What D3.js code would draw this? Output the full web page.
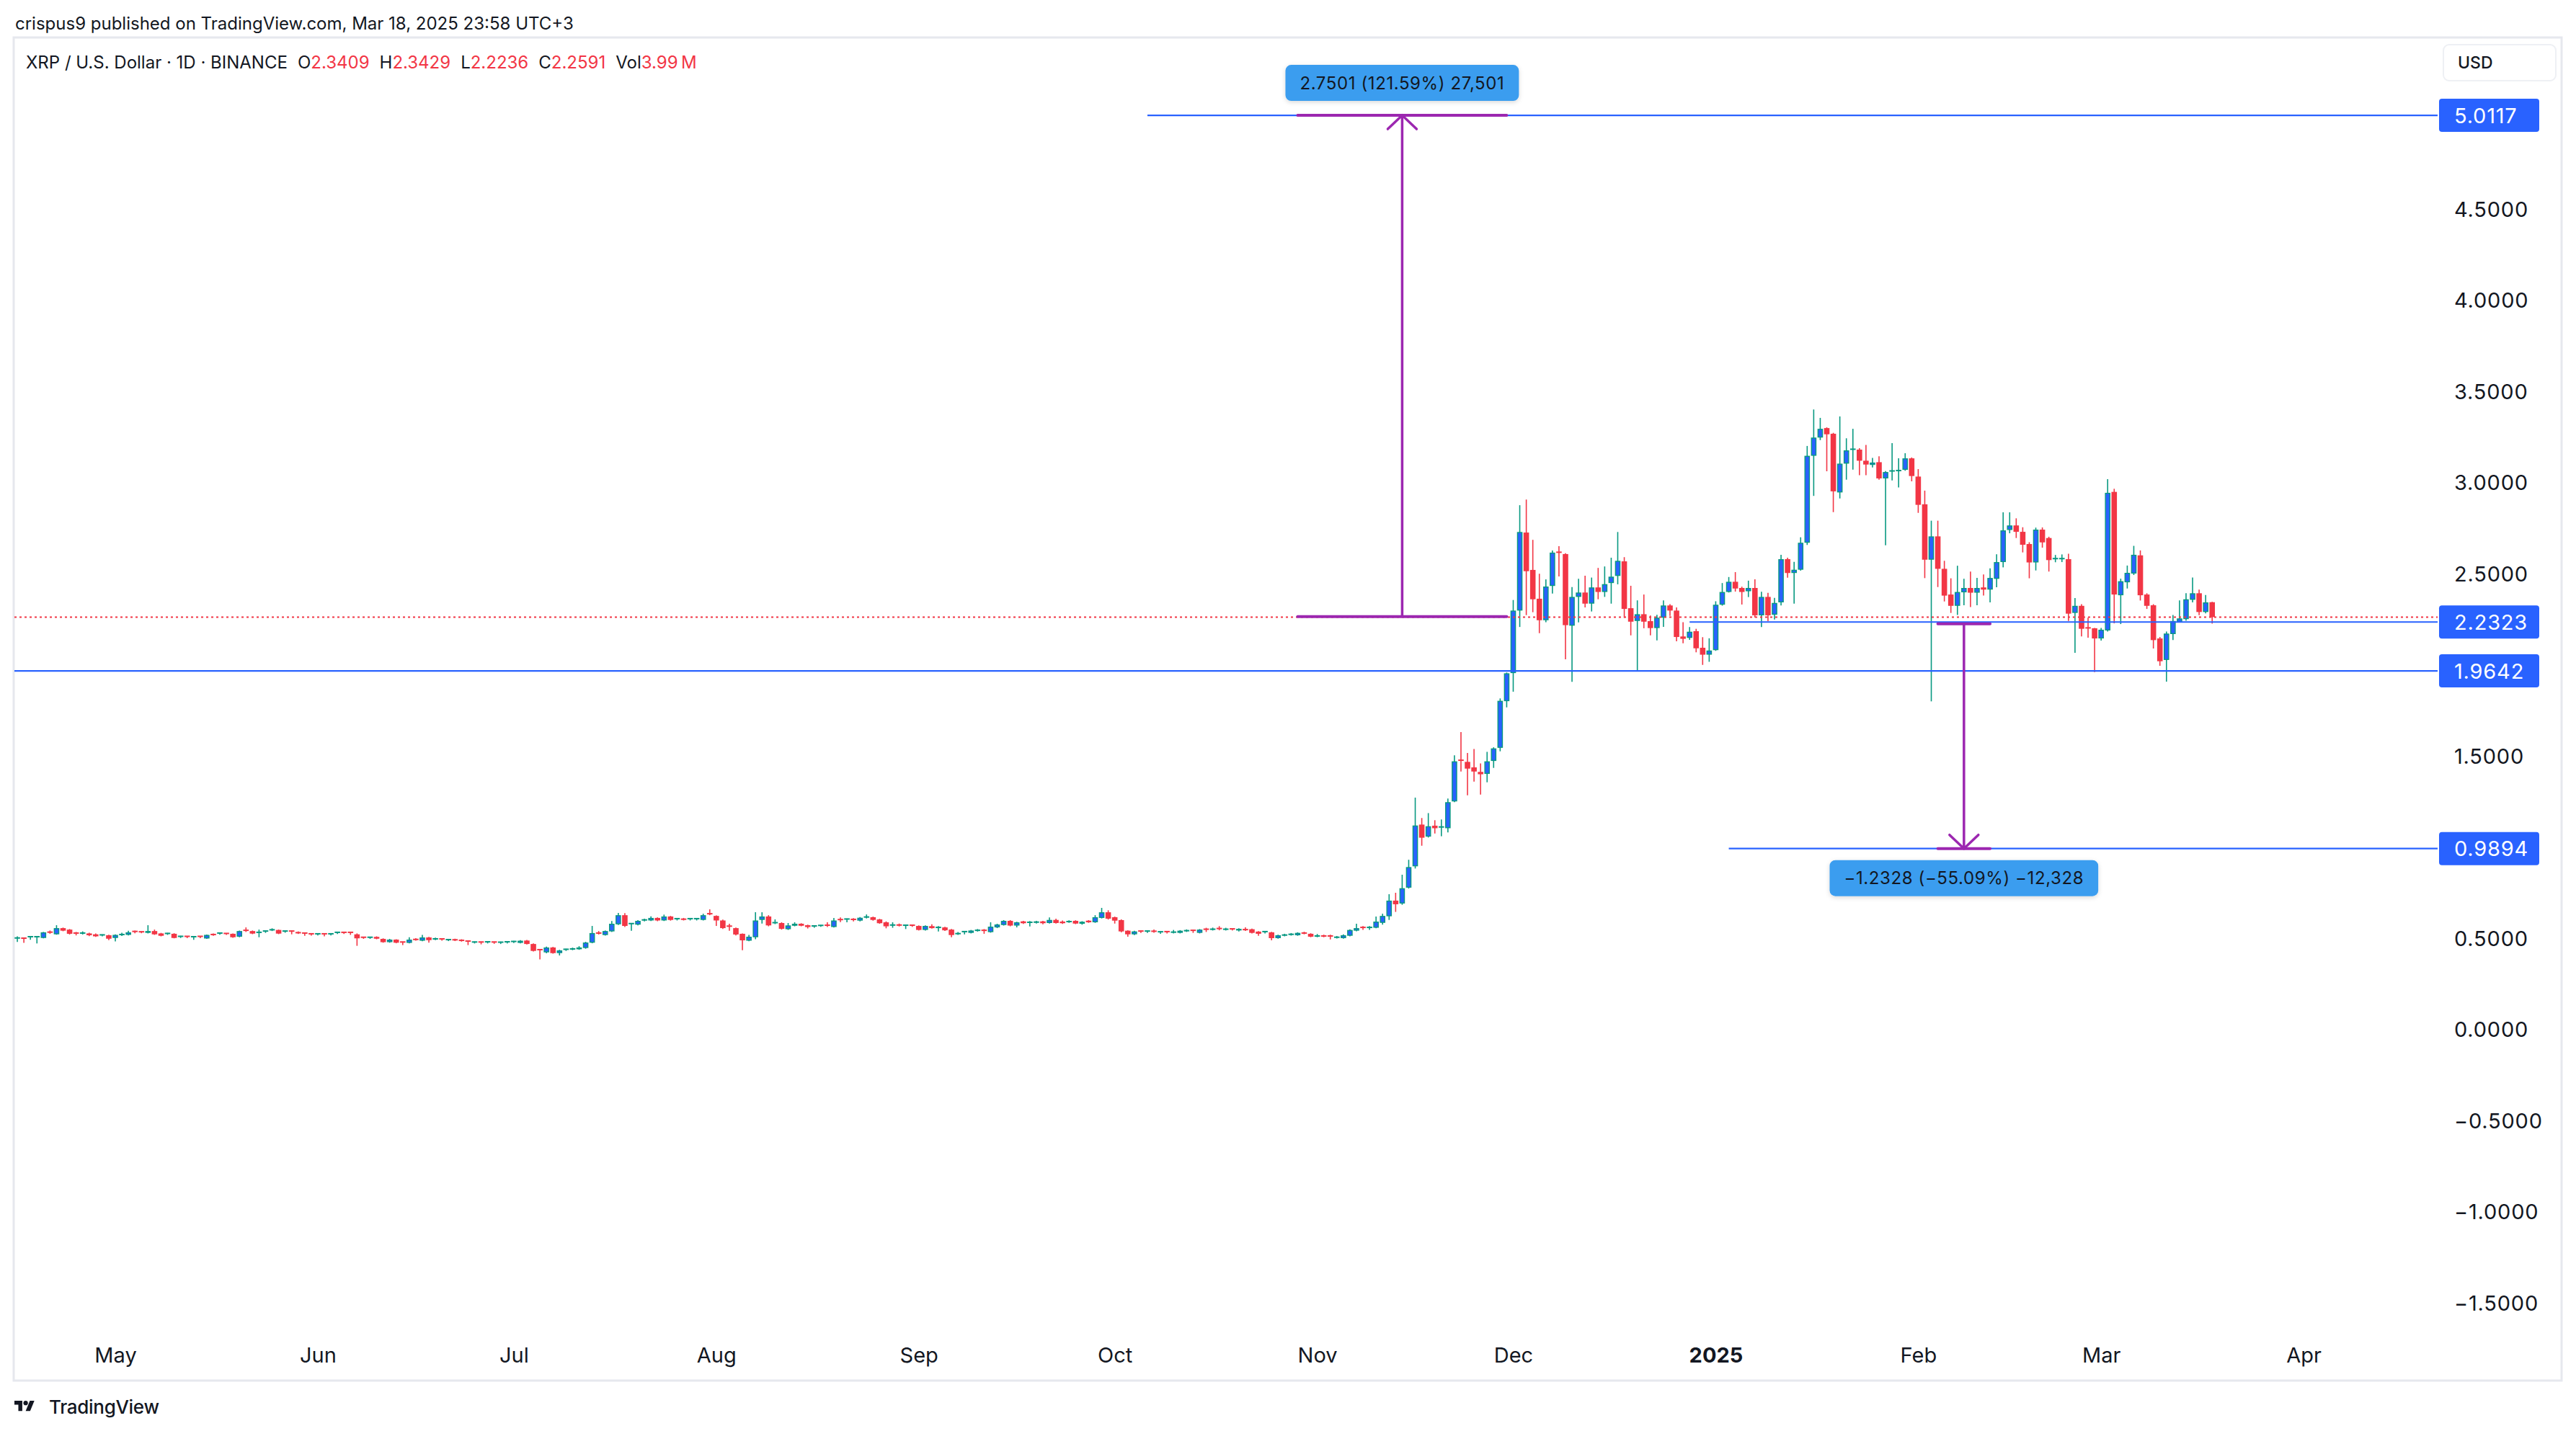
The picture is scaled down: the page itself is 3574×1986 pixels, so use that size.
<!DOCTYPE html>
<html><head><meta charset="utf-8">
<script src="https://cdn.jsdelivr.net/npm/d3@7"></script>
<style>
html,body{margin:0;padding:0;background:#fff;}
svg{display:block;font-family:Inter,"Noto Sans",sans-serif;}
</style></head>
<body>
<svg id="chart" width="3574" height="1986"></svg>
<script>
// ---------------- DATA ----------------
const startDate = "2024-04-16"; // first daily candle, one candle per day
const opens = [
.493,.498,.500,.500,.499,.535,.519,.553,.545,.530,
.522,.524,.519,.511,.514,.499,.514,.516,.535,.533,
.527,.537,.524,.519,.522,.502,.508,.500,.508,.496,
.522,.520,.524,.522,.506,.541,.537,.524,.530,.540,
.543,.532,.537,.532,.526,.522,.516,.522,.516,.524,
.530,.530,.519,.503,.497,.505,.494,.476,.490,.477,
.472,.495,.484,.502,.490,.494,.485,.493,.490,.482,
.472,.477,.472,.477,.469,.472,.474,.472,.485,.466,
.435,.420,.447,.416,.431,.435,.437,.444,.473,.530,
.515,.535,.574,.624,.572,.572,.594,.595,.609,.595,
.617,.598,.606,.598,.598,.598,.632,.620,.595,.564,
.553,.522,.484,.503,.598,.617,.578,.581,.547,.566,
.577,.569,.559,.563,.569,.559,.600,.596,.605,.594,
.610,.613,.601,.585,.566,.574,.564,.569,.565,.543,
.564,.553,.557,.545,.519,.527,.527,.537,.545,.531,
.557,.570,.593,.567,.590,.581,.582,.590,.581,.598,
.589,.585,.593,.577,.594,.585,.609,.640,.613,.597,
.539,.519,.537,.530,.540,.526,.534,.527,.527,.535,
.541,.527,.551,.543,.551,.543,.549,.540,.549,.547,
.534,.527,.530,.498,.511,.515,.514,.530,.522,.506,
.514,.514,.499,.498,.511,.539,.561,.553,.555,.582,
.618,.704,.688,.775,.892,1.121,1.055,1.115,1.101,1.101,
1.248,1.474,1.465,1.435,1.410,1.399,1.470,1.542,1.798,1.952,
2.295,2.723,2.518,2.360,2.242,2.430,2.615,2.605,2.212,2.370,
2.394,2.333,2.422,2.397,2.446,2.485,2.565,2.308,2.238,2.275,
2.237,2.199,2.256,2.323,2.295,2.153,2.145,2.182,2.091,2.053,
2.078,2.327,2.397,2.453,2.419,2.401,2.419,2.269,2.370,2.272,
2.340,2.577,2.501,2.519,2.667,3.144,3.244,3.296,3.265,2.943,
3.101,3.174,3.178,3.117,3.094,3.109,3.020,3.057,3.059,3.067,
3.130,3.030,2.878,2.574,2.702,2.524,2.383,2.321,2.395,2.419,
2.393,2.422,2.410,2.469,2.561,2.737,2.762,2.727,2.660,2.559,
2.739,2.693,2.574,2.575,2.577,2.282,2.321,2.200,2.198,2.142,
2.186,2.946,2.379,2.450,2.498,2.598,2.383,2.324,2.142,2.024,
2.166,2.232,2.248,2.354,2.390,2.287,2.3409];
const highs = [
.508,.500,.508,.508,.532,.540,.569,.556,.548,.532,
.535,.528,.524,.519,.517,.519,.528,.539,.540,.536,
.569,.545,.527,.527,.525,.511,.510,.510,.510,.518,
.524,.530,.526,.524,.540,.557,.540,.545,.540,.552,
.545,.540,.540,.535,.528,.524,.525,.524,.525,.532,
.532,.532,.524,.506,.506,.508,.497,.494,.492,.479,
.503,.498,.516,.505,.501,.497,.493,.495,.492,.484,
.480,.479,.481,.479,.479,.481,.483,.487,.488,.469,
.438,.452,.450,.434,.440,.446,.454,.478,.565,.537,
.540,.592,.636,.635,.581,.597,.605,.618,.612,.627,
.620,.608,.609,.608,.608,.632,.656,.623,.600,.577,
.556,.524,.516,.640,.640,.624,.601,.585,.581,.585,
.580,.572,.569,.570,.585,.609,.612,.606,.608,.614,
.628,.616,.604,.590,.585,.578,.572,.572,.568,.568,
.574,.564,.560,.548,.532,.537,.543,.548,.548,.585,
.577,.597,.597,.588,.593,.592,.593,.593,.612,.605,
.595,.596,.596,.591,.597,.624,.664,.651,.616,.601,
.541,.539,.540,.540,.545,.536,.536,.543,.542,.546,
.544,.548,.555,.556,.564,.555,.552,.552,.557,.550,
.537,.537,.533,.517,.522,.526,.530,.533,.525,.521,
.517,.517,.510,.519,.546,.577,.564,.564,.617,.632,
.739,.747,.846,.928,1.269,1.157,1.184,1.145,1.149,1.264,
1.501,1.628,1.514,1.536,1.457,1.520,1.545,1.813,1.955,2.353,
2.873,2.904,2.683,2.497,2.466,2.625,2.648,2.610,2.424,2.469,
2.486,2.476,2.529,2.537,2.585,2.726,2.588,2.431,2.351,2.383,
2.268,2.272,2.351,2.330,2.312,2.231,2.205,2.195,2.149,2.143,
2.346,2.446,2.479,2.506,2.426,2.459,2.466,2.398,2.392,2.365,
2.601,2.585,2.562,2.697,3.198,3.398,3.352,3.300,3.270,3.360,
3.240,3.292,3.186,3.204,3.132,3.141,3.060,3.213,3.130,3.158,
3.135,3.071,2.953,2.788,2.788,2.568,2.472,2.541,2.469,2.509,
2.474,2.493,2.527,2.604,2.834,2.834,2.801,2.752,2.670,2.750,
2.751,2.700,2.600,2.603,2.607,2.364,2.330,2.256,2.200,2.200,
3.016,2.963,2.470,2.542,2.650,2.625,2.390,2.330,2.150,2.180,
2.271,2.351,2.390,2.476,2.410,2.380,2.3429];
const lows = [
.477,.472,.489,.469,.497,.522,.517,.536,.518,.513,
.518,.509,.505,.508,.487,.480,.510,.513,.525,.525,
.524,.516,.508,.516,.497,.499,.498,.489,.498,.494,
.511,.517,.516,.500,.503,.532,.520,.503,.527,.537,
.520,.528,.519,.521,.511,.512,.513,.508,.513,.521,
.521,.516,.456,.494,.494,.492,.473,.473,.470,.460,
.469,.484,.481,.473,.487,.484,.482,.482,.479,.460,
.469,.464,.469,.467,.466,.469,.471,.469,.463,.425,
.381,.415,.413,.403,.428,.432,.434,.440,.470,.518,
.512,.532,.570,.559,.539,.568,.590,.592,.591,.592,
.594,.595,.595,.595,.595,.595,.624,.565,.548,.539,
.513,.432,.481,.492,.578,.563,.575,.545,.543,.563,
.563,.551,.555,.560,.559,.556,.586,.585,.590,.590,
.606,.594,.577,.552,.555,.562,.548,.560,.540,.540,
.550,.535,.538,.503,.516,.519,.524,.534,.522,.528,
.553,.567,.563,.557,.576,.562,.578,.574,.578,.578,
.576,.582,.575,.572,.582,.582,.606,.600,.578,.530,
.506,.515,.527,.527,.528,.522,.524,.524,.524,.532,
.527,.524,.532,.540,.541,.540,.540,.535,.538,.524,
.511,.524,.486,.495,.508,.512,.511,.519,.503,.503,
.503,.491,.496,.495,.508,.536,.543,.543,.552,.572,
.598,.642,.681,.770,.880,1.005,1.050,1.072,1.057,1.078,
1.244,1.412,1.282,1.357,1.286,1.353,1.432,1.523,1.764,1.850,
2.205,2.270,2.286,2.171,2.231,2.388,2.482,2.028,1.904,2.230,
2.312,2.290,2.357,2.370,2.333,2.439,2.255,2.159,1.966,2.198,
2.159,2.131,2.206,2.266,2.126,2.116,2.134,2.066,1.997,2.014,
2.074,2.322,2.394,2.399,2.328,2.369,2.257,2.205,2.237,2.246,
2.323,2.475,2.333,2.514,2.655,2.924,3.230,3.059,2.835,2.910,
3.013,3.068,3.038,3.038,3.080,3.013,2.653,3.009,2.970,3.062,
3.004,2.831,2.473,1.797,2.424,2.345,2.282,2.271,2.324,2.314,
2.324,2.377,2.340,2.423,2.532,2.719,2.693,2.614,2.472,2.515,
2.640,2.509,2.560,2.561,2.238,2.063,2.153,2.146,1.958,2.130,
2.180,2.225,2.221,2.416,2.490,2.350,2.304,2.087,1.992,1.905,
2.133,2.232,2.239,2.340,2.270,2.280,2.2236];
const closes = [
.499,.493,.506,.506,.530,.527,.553,.539,.522,.522,
.530,.514,.508,.516,.495,.516,.522,.530,.528,.528,
.537,.519,.511,.524,.499,.508,.502,.506,.503,.516,
.514,.526,.519,.503,.537,.535,.523,.530,.537,.544,
.523,.537,.532,.524,.519,.515,.522,.515,.522,.530,
.524,.524,.497,.497,.503,.495,.476,.490,.473,.470,
.490,.487,.502,.487,.498,.487,.490,.485,.482,.476,
.477,.472,.478,.470,.476,.478,.480,.484,.466,.428,
.428,.447,.416,.431,.437,.443,.447,.474,.526,.522,
.537,.577,.624,.565,.578,.593,.602,.609,.595,.617,
.598,.605,.598,.605,.605,.624,.627,.595,.553,.557,
.518,.486,.506,.595,.617,.568,.583,.549,.568,.577,
.566,.559,.565,.568,.563,.595,.593,.603,.597,.610,
.618,.598,.580,.563,.574,.566,.569,.563,.543,.565,
.553,.561,.541,.515,.527,.534,.540,.545,.537,.561,
.573,.593,.567,.585,.580,.589,.590,.580,.598,.581,
.580,.593,.578,.588,.585,.613,.640,.605,.594,.535,
.519,.535,.530,.537,.532,.533,.527,.535,.539,.543,
.535,.545,.543,.551,.544,.551,.543,.549,.541,.527,
.522,.534,.498,.514,.519,.523,.527,.522,.506,.514,
.506,.506,.507,.514,.543,.553,.553,.561,.589,.620,
.704,.684,.772,.888,1.116,1.049,1.112,1.101,1.108,1.244,
1.468,1.468,1.428,1.412,1.397,1.468,1.539,1.800,1.951,2.295,
2.726,2.511,2.357,2.242,2.427,2.613,2.608,2.215,2.370,2.394,
2.333,2.422,2.397,2.440,2.481,2.568,2.304,2.234,2.275,2.234,
2.199,2.256,2.323,2.295,2.150,2.140,2.179,2.088,2.053,2.076,
2.327,2.397,2.453,2.416,2.397,2.419,2.269,2.370,2.269,2.337,
2.577,2.501,2.519,2.667,3.144,3.244,3.292,3.262,2.949,3.101,
3.174,3.180,3.117,3.096,3.107,3.020,3.055,3.061,3.067,3.130,
3.033,2.875,2.574,2.702,2.524,2.377,2.321,2.397,2.419,2.393,
2.419,2.410,2.474,2.561,2.735,2.762,2.727,2.656,2.559,2.739,
2.669,2.572,2.580,2.580,2.278,2.321,2.195,2.195,2.142,2.190,
2.941,2.383,2.456,2.502,2.601,2.379,2.321,2.133,2.017,2.169,
2.238,2.252,2.357,2.390,2.287,2.340,2.2591];

const priceTicks = [4.5, 4.0, 3.5, 3.0, 2.5, 1.5, 0.5, 0.0, -0.5, -1.0, -1.5];
const monthTicks = ["2024-05-01","2024-06-01","2024-07-01","2024-08-01","2024-09-01","2024-10-01",
                    "2024-11-01","2024-12-01","2025-01-01","2025-02-01","2025-03-01","2025-04-01"];
// horizontal price lines: level and the date they start from (null = from left edge)
const levelPrices = [5.0117, 2.2323, 1.9642, 0.9894];
const levelStarts = ["2024-10-06", "2024-12-28", null, "2025-01-03"];
// price range measurements
const rangeFrom   = ["2024-10-29", "2025-02-04"];
const rangeTo     = ["2024-11-30", "2025-02-12"];
const rangeStart  = [2.2616, 2.2222];
const rangeEnd    = [5.0117, 0.9894];
const rangeLabels = ["2.7501 (121.59%) 27,501", "\u22121.2328 (\u221255.09%) \u221212,328"];
const volumeLabel = "3.99";
const headerText = "crispus9 published on TradingView.com, Mar 18, 2025 23:58 UTC+3";
const symbolText = "XRP / U.S. Dollar \u00b7 1D \u00b7 BINANCE";

// ---------------- DRAW ----------------
const W = 3574, H = 1986;
const svg = d3.select("#chart");
const parse = d3.utcParse("%Y-%m-%d");
const PX_PER_DAY = 9.063;
const x = d3.scaleUtc()
  .domain([parse("2024-05-01"), parse("2025-04-01")])
  .range([160, 160 + 335 * PX_PER_DAY]);
const y = d3.scaleLinear().domain([0, 5]).range([1428, 163]);

const plotL = 20, plotR = 3382, frameT = 52, frameB = 1916, frameR = 3554;
const TXT = "#131722", RED = "#F23645", TEAL = "#089981", BLUE = "#2962FF", PURPLE = "#9C27B0";

svg.append("rect").attr("width", W).attr("height", H).attr("fill", "#fff");

// header
svg.append("text").attr("x", 21).attr("y", 32).attr("dominant-baseline", "central")
  .attr("font-size", 24).attr("fill", TXT).text(headerText);

// frame
svg.append("rect").attr("x", 19).attr("y", frameT).attr("width", frameR - 19).attr("height", frameB - frameT)
  .attr("fill", "none").attr("stroke", "#E6E8EE").attr("stroke-width", 3);

// clip
svg.append("clipPath").attr("id", "plotclip").append("rect")
  .attr("x", plotL).attr("y", frameT + 2).attr("width", plotR - plotL).attr("height", 1800 - frameT);

const plot = svg.append("g").attr("clip-path", "url(#plotclip)");

// candles
const start = parse(startDate);
const candles = opens.map((o, i) => ({
  date: d3.utcDay.offset(start, i), o, h: highs[i], l: lows[i], c: closes[i]
}));
const bodyW = 7.6, bw = 1.4;
const cg = plot.append("g");
candles.forEach(d => {
  const cx = x(d.date);
  const up = d.c >= d.o;
  const col = up ? TEAL : RED;
  cg.append("line").attr("x1", cx).attr("x2", cx).attr("y1", y(d.h)).attr("y2", y(d.l))
    .attr("stroke", col).attr("stroke-width", 1.6);
  const top = y(Math.max(d.o, d.c)), bot = y(Math.min(d.o, d.c));
  const hgt = Math.max(bot - top, 2);
  if (up) {
    cg.append("rect").attr("x", cx - bodyW / 2 + bw / 2).attr("y", top + bw / 2 - (hgt === 2 ? 1 : 0))
      .attr("width", bodyW - bw).attr("height", Math.max(hgt - bw, 0.6))
      .attr("fill", BLUE).attr("stroke", TEAL).attr("stroke-width", bw);
  } else {
    cg.append("rect").attr("x", cx - bodyW / 2).attr("y", top - (hgt === 2 ? 1 : 0))
      .attr("width", bodyW).attr("height", hgt).attr("fill", RED);
  }
});

// last price dotted line
const lastClose = closes[closes.length - 1];
plot.append("line").attr("x1", plotL).attr("x2", plotR).attr("y1", y(lastClose)).attr("y2", y(lastClose))
  .attr("stroke", RED).attr("stroke-width", 2).attr("stroke-dasharray", "3 4");

// horizontal price lines
levelPrices.forEach((p, i) => {
  const x1 = levelStarts[i] ? x(parse(levelStarts[i])) : plotL;
  plot.append("line").attr("x1", x1).attr("x2", plotR).attr("y1", y(p)).attr("y2", y(p))
    .attr("stroke", BLUE).attr("stroke-width", 2.2);
});

// shadow filter
const defs = svg.append("defs");
const f = defs.append("filter").attr("id", "sh").attr("x", "-10%").attr("y", "-30%").attr("width", "120%").attr("height", "160%");
f.append("feDropShadow").attr("dx", 0).attr("dy", 2).attr("stdDeviation", 3).attr("flood-color", "#000").attr("flood-opacity", 0.15);

// price range tools
rangeStart.forEach((s, i) => {
  const e = rangeEnd[i];
  const xa = x(parse(rangeFrom[i])), xb = x(parse(rangeTo[i]));
  const xm = (xa + xb) / 2;
  const g = svg.append("g");
  [s, e].forEach(v => g.append("line").attr("x1", xa).attr("x2", xb).attr("y1", y(v)).attr("y2", y(v))
    .attr("stroke", PURPLE).attr("stroke-width", 4).attr("stroke-linecap", "round"));
  g.append("line").attr("x1", xm).attr("x2", xm).attr("y1", y(s)).attr("y2", y(e))
    .attr("stroke", PURPLE).attr("stroke-width", 3.5);
  const dir = e > s ? 1 : -1; // arrow pointing up or down
  const ty = y(e);
  g.append("path").attr("d", `M${xm - 20},${ty + dir * 19} L${xm},${ty} L${xm + 20},${ty + dir * 19}`)
    .attr("fill", "none").attr("stroke", PURPLE).attr("stroke-width", 3.5).attr("stroke-linecap", "round");
  // label
  const ly = dir > 0 ? ty - 45 : ty + 41;
  const lg = svg.append("g");
  const t = lg.append("text").attr("x", xm).attr("y", ly).attr("text-anchor", "middle")
    .attr("dominant-baseline", "central").attr("font-size", 24).attr("fill", TXT)
    .attr("letter-spacing", 0.6).text(rangeLabels[i]);
  const bb = t.node().getBBox();
  const pad = 20;
  lg.insert("rect", "text").attr("x", bb.x - pad).attr("y", ly - 25).attr("width", bb.width + 2 * pad).attr("height", 50)
    .attr("rx", 8).attr("fill", "#3A9DEF").attr("filter", "url(#sh)");
});

// price axis
const yAxis = d3.axisRight(y).tickValues(priceTicks).tickSize(0).tickFormat(d3.format(".4f"));
const ya = svg.append("g").attr("transform", "translate(3405,0)").call(yAxis);
ya.select(".domain").remove();
ya.selectAll("text").attr("x", 0).attr("dy", null).attr("dominant-baseline", "central")
  .attr("font-size", 29).attr("font-family", "Inter, 'Noto Sans', sans-serif").attr("fill", TXT)
  .attr("text-anchor", "start").attr("letter-spacing", 0.8);

// axis price labels
levelPrices.forEach(p => {
  const g = svg.append("g");
  g.append("rect").attr("x", 3384).attr("y", y(p) - 23).attr("width", 139).attr("height", 46)
    .attr("rx", 4).attr("fill", BLUE);
  g.append("text").attr("x", 3405).attr("y", y(p)).attr("dominant-baseline", "central")
    .attr("font-size", 29).attr("fill", "#fff").attr("letter-spacing", 0.8).text(d3.format(".4f")(p));
});

// USD box
svg.append("rect").attr("x", 3390).attr("y", 62).attr("width", 156).attr("height", 50).attr("rx", 8)
  .attr("fill", "#fff").attr("stroke", "#EEF0F4").attr("stroke-width", 2);
svg.append("text").attr("x", 3410).attr("y", 87).attr("dominant-baseline", "central")
  .attr("font-size", 23).attr("font-weight", 500).attr("fill", TXT).text("USD");

// time axis
const xAxis = d3.axisBottom(x).tickValues(monthTicks.map(parse)).tickSize(0)
  .tickFormat(d => d.getUTCMonth() === 0 ? d3.utcFormat("%Y")(d) : d3.utcFormat("%b")(d));
const xa = svg.append("g").attr("transform", "translate(0,1880)").call(xAxis);
xa.select(".domain").remove();
xa.selectAll("text").attr("y", 0).attr("dy", null).attr("dominant-baseline", "central")
  .attr("font-size", 29).attr("font-family", "Inter, 'Noto Sans', sans-serif").attr("fill", TXT)
  .attr("font-weight", d => d.getUTCMonth() === 0 ? 700 : 400);

// legend
const lastI = closes.length - 1;
const fmt4 = d3.format(".4f");
const leg = svg.append("text").attr("x", 36).attr("y", 86).attr("dominant-baseline", "central")
  .attr("font-size", 24).attr("fill", TXT);
leg.append("tspan").text(symbolText);
[["O", opens[lastI]], ["H", highs[lastI]], ["L", lows[lastI]], ["C", closes[lastI]]].forEach(([k, v]) => {
  leg.append("tspan").attr("dx", 14).text(k);
  leg.append("tspan").attr("fill", RED).text(fmt4(v));
});
leg.append("tspan").attr("dx", 14).text("Vol");
leg.append("tspan").attr("fill", RED).text(volumeLabel + "\u2009M");

// TradingView logo
const logo = svg.append("g").attr("transform", "translate(20,1941) scale(0.78)");
logo.append("path").attr("d", "M14 22H7V11H0V4h14v18zM28 22h-8l7.5-18h8L28 22z").attr("fill", TXT);
logo.append("circle").attr("cx", 20).attr("cy", 8).attr("r", 4).attr("fill", TXT);
svg.append("text").attr("x", 68).attr("y", 1952).attr("dominant-baseline", "central")
  .attr("font-size", 26).attr("font-weight", 500).attr("fill", TXT).attr("letter-spacing", -0.3).text("TradingView");
</script>
</body></html>
